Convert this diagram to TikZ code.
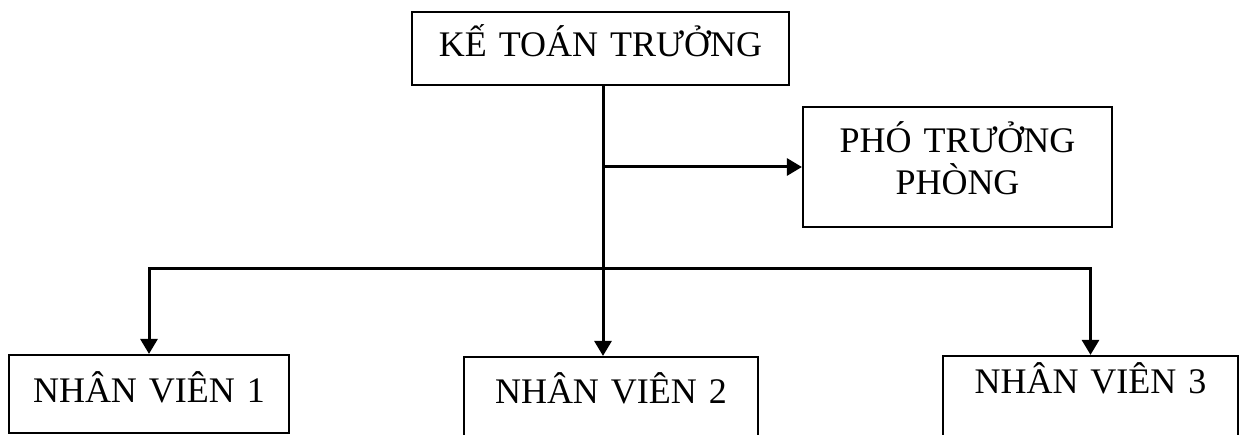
\documentclass[tikz,border=0pt]{standalone}
\usepackage{fontspec}
\setmainfont{Liberation Serif}
\usetikzlibrary{arrows.meta}
\tikzset{box/.style={draw,line width=2.2pt,inner xsep=0pt,inner ysep=0pt,align=center,anchor=base,font=\fontsize{36}{42}\selectfont}}
\tikzset{link/.style={line width=3pt}}
\tikzset{arr/.style={link,-{Triangle[length=15pt,width=17pt]}}}

\begin{document}
\begin{tikzpicture}[x=1pt,y=-1pt]
\useasboundingbox (0,0) rectangle (1239,435);
\clip (0,0) rectangle (1239,435);

\node [box,text width=377pt,text height=45pt,text depth=28pt] (kt) at (600.5,57) {KẾ TOÁN TRƯỞNG};
\node [box,text width=309pt,text height=46pt,text depth=74pt] (pp) at (957.5,153) {PHÓ TRƯỞNG\\PHÒNG};

\node [box,text width=280pt,text height=47pt,text depth=31pt] (nv1) at (149,402) {NHÂN VIÊN 1};
\node [box,text width=294pt,text height=46pt,text depth=50pt] (nv2) at (611,403) {NHÂN VIÊN 2};
\node [box,text width=295pt,text height=37pt,text depth=60pt] (nv3) at (1090.5,393) {NHÂN VIÊN 3};

\coordinate (jpp) at (603,167);
\coordinate (jnv) at (603,269);

\draw [arr] (kt.south -| jpp) -- (nv2.north -| jpp);
\draw [arr] (jpp) -- (pp.west);
\draw [arr] (jnv) -| (nv1.north);
\draw [arr] (jnv) -| (nv3.north);
\end{tikzpicture}
\end{document}
